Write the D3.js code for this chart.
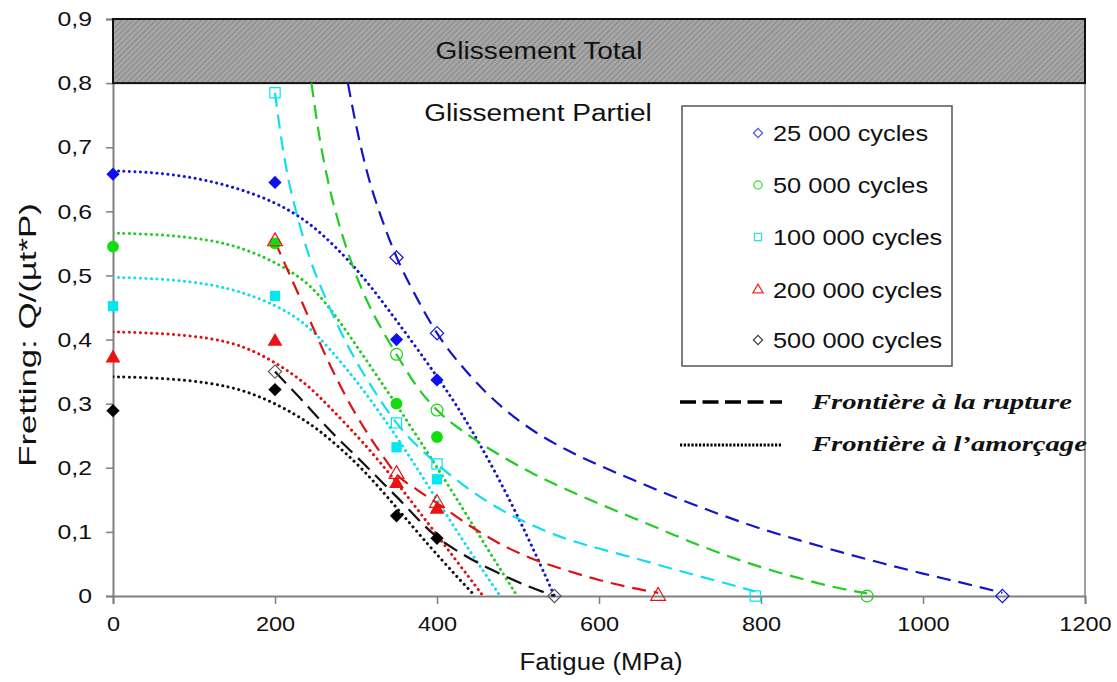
<!DOCTYPE html>
<html><head><meta charset="utf-8">
<script src="https://cdn.jsdelivr.net/npm/d3@7"></script>
<style>
body{margin:0;background:#fff;}
text{font-family:"Liberation Sans",Arial,sans-serif;fill:#111;}
</style></head>
<body><svg id="c" width="1117" height="682"></svg>
<script>
// ---------- data ----------
const xTicks = [0,200,400,600,800,1000,1200];
const yTicks = [0,0.1,0.2,0.3,0.4,0.5,0.6,0.7,0.8,0.9];
const seriesNames = ["25 000 cycles","50 000 cycles","100 000 cycles","200 000 cycles","500 000 cycles"];

// initiation (amorçage) measured points – filled markers
const initX_25k = [0,200,350,400];   const initY_25k = [0.658,0.645,0.40,0.337];
const initX_50k = [0,200,350,400];   const initY_50k = [0.545,0.55,0.30,0.248];
const initX_100k = [0,200,350,400];  const initY_100k = [0.452,0.468,0.232,0.182];
const initX_200k = [0,200,350,400];  const initY_200k = [0.371,0.397,0.175,0.135];
const initX_500k = [0,200,350,400];  const initY_500k = [0.289,0.322,0.125,0.09];

// rupture measured points – open markers
const ruptX_25k = [350,400,1098];     const ruptY_25k = [0.528,0.41,0];
const ruptX_50k = [350,400,931];      const ruptY_50k = [0.377,0.29,0];
const ruptX_100k = [200,350,400,793]; const ruptY_100k = [0.785,0.27,0.206,0];
const ruptX_200k = [200,350,400,673]; const ruptY_200k = [0.553,0.19,0.145,0];
const ruptX_500k = [200,545];         const ruptY_500k = [0.35,0];

// rupture boundary curves (dashed)
const ruptCurveX_25k = [290,300,315,330,350,375,400,440,480,520,560,600,650,700,750,800,850,900,950,1000,1050,1098];
const ruptCurveY_25k = [0.80,0.735,0.655,0.595,0.529,0.465,0.41,0.345,0.295,0.257,0.228,0.204,0.177,0.151,0.127,0.105,0.086,0.068,0.051,0.035,0.02,0.005];
const ruptCurveX_50k = [245,255,265,278,293,313,330,350,375,400,440,480,520,560,600,640,680,720,760,800,850,890,931];
const ruptCurveY_50k = [0.80,0.715,0.65,0.585,0.525,0.462,0.42,0.377,0.327,0.29,0.25,0.218,0.19,0.166,0.144,0.123,0.102,0.081,0.062,0.045,0.027,0.014,0.004];
const ruptCurveX_100k = [200,207,215,227,243,264,290,320,350,375,400,440,480,520,560,600,650,700,750,793];
const ruptCurveY_100k = [0.785,0.72,0.66,0.595,0.527,0.46,0.39,0.325,0.27,0.235,0.206,0.166,0.134,0.109,0.089,0.074,0.057,0.039,0.022,0.007];
const ruptCurveX_200k = [200,215,231,250,268,288,310,330,350,375,400,440,480,520,560,600,640,673];
const ruptCurveY_200k = [0.553,0.51,0.465,0.41,0.36,0.31,0.262,0.224,0.19,0.166,0.145,0.11,0.08,0.057,0.04,0.025,0.013,0.005];
const ruptCurveX_500k = [200,230,268,309,350,400,432,474,515,545];
const ruptCurveY_500k = [0.35,0.31,0.258,0.207,0.155,0.092,0.065,0.037,0.014,0.0];

// initiation boundary curves (dotted)
const initCurveX_25k = [0,50,100,150,200,240,275,310,350,400,432,474,512,545];
const initCurveY_25k = [0.663,0.661,0.653,0.638,0.615,0.585,0.545,0.497,0.43,0.343,0.283,0.19,0.093,0.0];
const initCurveX_50k = [0,60,120,165,206,240,268,309,346,391,432,465,499];
const initCurveY_50k = [0.566,0.564,0.556,0.541,0.517,0.49,0.45,0.375,0.306,0.219,0.136,0.068,0.0];
const initCurveX_100k = [0,60,120,165,206,240,268,300,330,360,390,420,450,478];
const initCurveY_100k = [0.497,0.495,0.487,0.472,0.451,0.423,0.385,0.337,0.285,0.23,0.17,0.11,0.052,0.0];
const initCurveX_200k = [0,60,120,165,206,240,268,309,350,391,424,457];
const initCurveY_200k = [0.412,0.41,0.403,0.389,0.36,0.33,0.294,0.24,0.178,0.11,0.055,0.0];
const initCurveX_500k = [0,60,120,165,206,240,268,309,350,391,424,447];
const initCurveY_500k = [0.342,0.34,0.333,0.32,0.297,0.272,0.245,0.198,0.138,0.077,0.031,0.0];

// ---------- styles ----------
const markColor = ["#1010ee","#11dd11","#00e8f0","#ee1111","#000000"];
const lineColor = ["#1515c8","#22cc22","#11ddee","#dd1111","#111111"];
const legendColor = ["#5555dd","#44dd44","#33dde8","#e03333","#444444"];
const shapes = ["diamond","circle","square","triangle","diamond"];

const initData = [[initX_25k,initY_25k],[initX_50k,initY_50k],[initX_100k,initY_100k],[initX_200k,initY_200k],[initX_500k,initY_500k]];
const ruptData = [[ruptX_25k,ruptY_25k],[ruptX_50k,ruptY_50k],[ruptX_100k,ruptY_100k],[ruptX_200k,ruptY_200k],[ruptX_500k,ruptY_500k]];
const ruptCurves = [[ruptCurveX_25k,ruptCurveY_25k],[ruptCurveX_50k,ruptCurveY_50k],[ruptCurveX_100k,ruptCurveY_100k],[ruptCurveX_200k,ruptCurveY_200k],[ruptCurveX_500k,ruptCurveY_500k]];
const initCurves = [[initCurveX_25k,initCurveY_25k],[initCurveX_50k,initCurveY_50k],[initCurveX_100k,initCurveY_100k],[initCurveX_200k,initCurveY_200k],[initCurveX_500k,initCurveY_500k]];

const zip = (xs,ys)=>xs.map((v,i)=>[v,ys[i]]);
function stretch(sel,k){
  sel.each(function(){
    const w=this.getComputedTextLength();
    d3.select(this).attr("textLength",w*k).attr("lengthAdjust","spacingAndGlyphs");
  });
}

// ---------- chart ----------
const svg = d3.select("#c");
const x = d3.scaleLinear().domain([0,1200]).range([113,1085]);
const y = d3.scaleLinear().domain([0,0.9]).range([596,19]);

const defs = svg.append("defs");
const pat = defs.append("pattern").attr("id","hatch").attr("patternUnits","userSpaceOnUse")
  .attr("width",4).attr("height",4).attr("patternTransform","rotate(45)");
pat.append("rect").attr("width",4).attr("height",4).attr("fill","#a6a6a6");
pat.append("line").attr("x1",0).attr("y1",0).attr("x2",0).attr("y2",4).attr("stroke","#7c7c7c").attr("stroke-width",1.5);

defs.append("clipPath").attr("id","plotclip").append("rect")
  .attr("x",x(0)).attr("y",y(0.8)).attr("width",x(1200)-x(0)).attr("height",y(0)-y(0.8)+6);

// axes
const fmt = d => d===0 ? "0" : d3.format(".1f")(d).replace(".",",");
const gy = svg.append("g").attr("transform",`translate(${x(0)},0)`)
  .call(d3.axisLeft(y).tickValues(yTicks).tickFormat(fmt).tickSizeOuter(0).tickSize(7).tickPadding(14));
const gx = svg.append("g").attr("transform",`translate(0,${y(0)})`)
  .call(d3.axisBottom(x).tickValues(xTicks).tickFormat(d3.format("d")).tickSizeOuter(0).tickSize(8).tickPadding(12));
[gx,gy].forEach(g=>{
  g.select(".domain").attr("stroke","#808080").attr("stroke-width",2);
  g.selectAll(".tick line").attr("stroke","#808080").attr("stroke-width",1.5);
  g.selectAll(".tick text").style("font-size","21px").attr("fill","#111");
});
stretch(gy.selectAll(".tick text"),1.18);
stretch(gx.selectAll(".tick text"),1.12);

svg.append("line").attr("x1",x(1200)).attr("x2",x(1200)).attr("y1",y(0.9)).attr("y2",y(0))
  .attr("stroke","#808080").attr("stroke-width",1.5);

// total slip band
svg.append("rect").attr("x",x(0)).attr("y",y(0.9)).attr("width",x(1200)-x(0)).attr("height",y(0.8)-y(0.9))
  .attr("fill","url(#hatch)").attr("stroke","#111").attr("stroke-width",2);
const t1 = svg.append("text").attr("x",539).attr("y",y(0.85)).attr("dy","0.36em").attr("text-anchor","middle")
  .style("font-size","23px").text("Glissement Total");
const t2 = svg.append("text").attr("x",538).attr("y",113).attr("dy","0.36em").attr("text-anchor","middle")
  .style("font-size","23px").text("Glissement Partiel");
stretch(t1,1.22); stretch(t2,1.22);

// axis titles
const tx = svg.append("text").attr("x",601).attr("y",670).attr("text-anchor","middle")
  .style("font-size","23px").text("Fatigue (MPa)");
stretch(tx,1.12);
const ty = svg.append("text").attr("transform","translate(36,335) rotate(-90)").attr("text-anchor","middle")
  .style("font-size","24px").text("Fretting: Q/(µt*P)");
stretch(ty,1.45);

// curves
const lineM = d3.line().x(d=>x(d[0])).y(d=>y(d[1])).curve(d3.curveMonotoneX);
const lineB = d3.line().x(d=>x(d[0])).y(d=>y(d[1])).curve(d3.curveBasis);
const cg = svg.append("g").attr("clip-path","url(#plotclip)");
initCurves.forEach((c,i)=>{
  cg.append("path").attr("d",lineB(zip(c[0],c[1]))).attr("fill","none")
    .attr("stroke",lineColor[i]).attr("stroke-width",3).attr("stroke-linecap","round")
    .attr("stroke-dasharray","0.1,5.4");
});
ruptCurves.forEach((c,i)=>{
  cg.append("path").attr("d",lineM(zip(c[0],c[1]))).attr("fill","none")
    .attr("stroke",lineColor[i]).attr("stroke-width",2.2)
    .attr("stroke-dasharray", i===4 ? "16,8" : "14,8");
});

// symbols
function sym(shape, scale){
  if(shape==="diamond") return {t:d3.symbolSquare, s:88*scale, rot:45};
  if(shape==="circle") return {t:d3.symbolCircle, s:110*scale, rot:0};
  if(shape==="square") return {t:d3.symbolSquare, s:105*scale, rot:0};
  return {t:d3.symbolTriangle, s:95*scale, rot:0};
}
const mg = svg.append("g");
initData.forEach((dd,i)=>{
  const s = sym(shapes[i],1);
  zip(dd[0],dd[1]).forEach(p=>{
    mg.append("path").attr("d",d3.symbol().type(s.t).size(s.s)())
      .attr("transform",`translate(${x(p[0])},${y(p[1])}) rotate(${s.rot})`)
      .attr("fill",markColor[i]);
  });
});
ruptData.forEach((dd,i)=>{
  const s = sym(shapes[i],1.0);
  zip(dd[0],dd[1]).forEach(p=>{
    mg.append("path").attr("d",d3.symbol().type(s.t).size(s.s)())
      .attr("transform",`translate(${x(p[0])},${y(p[1])}) rotate(${s.rot})`)
      .attr("fill","none").attr("stroke",i===4?"#555":markColor[i]).attr("stroke-width",1.2);
  });
});

// legend
const lg = svg.append("g");
lg.append("rect").attr("x",682).attr("y",106).attr("width",270).attr("height",260)
  .attr("fill","#fff").attr("stroke","#555").attr("stroke-width",1.5);
const rowY = [133,185,237,290,340];
seriesNames.forEach((n,i)=>{
  const s = sym(shapes[i],0.48);
  lg.append("path").attr("d",d3.symbol().type(s.t).size(s.s)())
    .attr("transform",`translate(758,${rowY[i]}) rotate(${s.rot})`)
    .attr("fill","none").attr("stroke",legendColor[i]).attr("stroke-width",1.3);
  const t = lg.append("text").attr("x",773).attr("y",rowY[i]).attr("dy","0.36em")
    .style("font-size","21.5px").text(n);
  stretch(t,1.18);
});
lg.append("line").attr("x1",680).attr("x2",782).attr("y1",402).attr("y2",402)
  .attr("stroke","#000").attr("stroke-width",3.5).attr("stroke-dasharray","16,6.5");
lg.append("line").attr("x1",680).attr("x2",782).attr("y1",445).attr("y2",445)
  .attr("stroke","#000").attr("stroke-width",3).attr("stroke-dasharray","2.2,1.6");
const f1 = lg.append("text").attr("x",812).attr("y",409)
  .style("font-family","'Liberation Serif','DejaVu Serif',serif").style("font-style","italic").style("font-weight","bold")
  .style("font-size","22px").text("Frontière à la rupture");
const f2 = lg.append("text").attr("x",812).attr("y",451)
  .style("font-family","'Liberation Serif','DejaVu Serif',serif").style("font-style","italic").style("font-weight","bold")
  .style("font-size","22px").text("Frontière à l’amorçage");
stretch(f1,1.3); stretch(f2,1.3);
</script></body></html>
